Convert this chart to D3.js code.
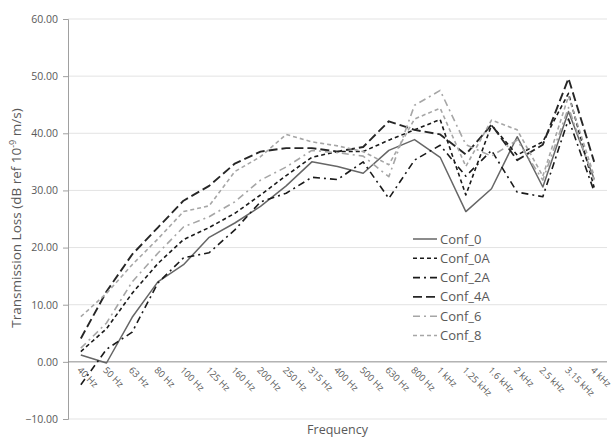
<!DOCTYPE html>
<html>
<head>
<meta charset="utf-8">
<script src="https://cdn.jsdelivr.net/npm/d3@7"></script>
<style>
  body { margin: 0; background: #fff; }
  svg text { font-family: "Open Sans", "Liberation Sans", sans-serif; fill: #595959; }
</style>
</head>
<body>
<div class="chart"></div>
<script>
// Data ---------------------------------------------------------------------
const frequencies = ["40 Hz", "50 Hz", "63 Hz", "80 Hz", "100 Hz", "125 Hz", "160 Hz", "200 Hz",
  "250 Hz", "315 Hz", "400 Hz", "500 Hz", "630 Hz", "800 Hz", "1 kHz", "1.25 kHz", "1.6 kHz",
  "2 kHz", "2.5 kHz", "3.15 kHz", "4 kHz"];

const conf0  = [1.2, -0.2, 7.8, 14.0, 17.0, 21.8, 24.3, 27.2, 30.8, 35.0, 34.2, 33.0, 37.0, 38.9, 35.8, 26.3, 30.3, 39.4, 30.6, 43.8, 32.0];
const conf0A = [1.8, 5.8, 12.0, 17.2, 21.4, 23.5, 26.0, 29.2, 32.6, 35.8, 36.8, 36.8, 38.8, 40.6, 42.4, 29.2, 41.4, 36.2, 38.5, 47.0, 30.5];
const conf2A = [-4.0, 2.2, 5.2, 13.8, 18.2, 19.1, 23.1, 28.0, 29.5, 32.3, 31.9, 35.0, 28.6, 35.3, 37.9, 32.5, 37.0, 29.7, 28.9, 42.5, 29.8];
const conf4A = [4.1, 12.3, 18.8, 23.5, 28.2, 30.8, 34.7, 36.8, 37.4, 37.4, 36.8, 37.6, 42.1, 40.6, 39.8, 36.3, 41.5, 35.3, 38.0, 49.6, 35.0];
const conf6  = [2.4, 6.8, 14.0, 19.0, 23.6, 25.4, 28.0, 31.8, 34.1, 37.0, 36.6, 36.0, 32.4, 44.9, 47.5, 38.0, 36.0, 38.8, 31.8, 44.5, 31.8];
const conf8  = [7.9, 12.0, 17.0, 21.5, 26.3, 27.3, 33.3, 35.9, 39.8, 38.5, 37.8, 36.8, 34.5, 42.5, 44.4, 34.2, 42.3, 40.6, 32.5, 46.5, 32.5];

const yTicks = [-10, 0, 10, 20, 30, 40, 50, 60];

const series = [
  { name: "Conf_0",  values: conf0,  color: "#666666", width: 1.5, dash: null },
  { name: "Conf_0A", values: conf0A, color: "#1a1a1a", width: 1.6, dash: "4,3" },
  { name: "Conf_2A", values: conf2A, color: "#1a1a1a", width: 1.6, dash: "7,4,2,4" },
  { name: "Conf_4A", values: conf4A, color: "#262626", width: 1.9, dash: "9,4" },
  { name: "Conf_6",  values: conf6,  color: "#a6a6a6", width: 1.6, dash: "7,4,2,4" },
  { name: "Conf_8",  values: conf8,  color: "#a6a6a6", width: 1.6, dash: "4,3" }
];

// SVG Dimensions ---------------------------------------------------------------------
const width = 614;
const height = 437;
const margin = { top: 19, right: 7, bottom: 18, left: 68 };

const svg = d3.select(".chart")
  .append("svg")
  .attr("width", width)
  .attr("height", height);

// Scales ---------------------------------------------------------------------
const xScale = d3.scaleBand()
  .domain(frequencies)
  .range([margin.left, width - margin.right])
  .padding(0);

const yScale = d3.scaleLinear()
  .domain([-10, 60])
  .range([height - margin.bottom, margin.top]);

const xPos = f => xScale(f) + xScale.bandwidth() / 2;

// Grid ---------------------------------------------------------------------
svg.append("g")
  .selectAll("line")
  .data(yTicks.filter(d => d !== 0))
  .join("line")
  .attr("x1", margin.left)
  .attr("x2", width - margin.right)
  .attr("y1", d => yScale(d))
  .attr("y2", d => yScale(d))
  .attr("stroke", "#e3e3e3")
  .attr("stroke-width", 1);

// Y axis ---------------------------------------------------------------------
const yAxis = d3.axisLeft(yScale)
  .tickValues(yTicks)
  .tickSize(5)
  .tickPadding(5)
  .tickFormat(d3.format(".2f"));

const yG = svg.append("g")
  .attr("transform", `translate(${margin.left},0)`)
  .call(yAxis);
yG.select(".domain").attr("stroke", "#a0a0a0");
yG.selectAll(".tick line").attr("stroke", "#a0a0a0");
yG.selectAll(".tick text").attr("font-size", 10.5).attr("fill", "#595959");

// X axis at zero ---------------------------------------------------------------------
svg.append("line")
  .attr("x1", margin.left)
  .attr("x2", width - margin.right)
  .attr("y1", yScale(0))
  .attr("y2", yScale(0))
  .attr("stroke", "#8c8c8c")
  .attr("stroke-width", 1);

svg.append("g")
  .selectAll("text")
  .data(frequencies)
  .join("text")
  .attr("transform", d => `translate(${xPos(d) - 4},${yScale(0) + 9}) rotate(45)`)
  .attr("font-size", 9.3)
  .attr("fill", "#6a6a6a")
  .text(d => d);

// Lines ---------------------------------------------------------------------
const line = d3.line()
  .x((d, i) => xPos(frequencies[i]))
  .y(d => yScale(d));

svg.append("g")
  .selectAll("path")
  .data(series)
  .join("path")
  .attr("d", d => line(d.values))
  .attr("fill", "none")
  .attr("stroke", d => d.color)
  .attr("stroke-width", d => d.width)
  .attr("stroke-dasharray", d => d.dash)
  .attr("stroke-linejoin", "round");

// Axis titles ---------------------------------------------------------------------
const yTitle = svg.append("text")
  .attr("transform", "translate(21,218) rotate(-90)")
  .attr("text-anchor", "middle")
  .attr("font-size", 13.5);
yTitle.append("tspan").text("Transmission Loss (dB ref 10");
yTitle.append("tspan").attr("font-size", 9).attr("dy", -5).text("-9");
yTitle.append("tspan").attr("dy", 5).text(" m/s)");

svg.append("text")
  .attr("x", (margin.left + width - margin.right) / 2)
  .attr("y", 434)
  .attr("text-anchor", "middle")
  .attr("font-size", 12.5)
  .text("Frequency");

// Legend ---------------------------------------------------------------------
const legend = svg.append("g")
  .attr("transform", "translate(413,239)");

const item = legend.selectAll("g")
  .data(series)
  .join("g")
  .attr("transform", (d, i) => `translate(0,${i * 19.3})`);

item.append("line")
  .attr("x1", 0)
  .attr("x2", 24)
  .attr("stroke", d => d.color)
  .attr("stroke-width", d => d.width)
  .attr("stroke-dasharray", d => d.dash);

item.append("text")
  .attr("x", 27)
  .attr("dy", "0.35em")
  .attr("font-size", 13)
  .text(d => d.name);
</script>
</body>
</html>
